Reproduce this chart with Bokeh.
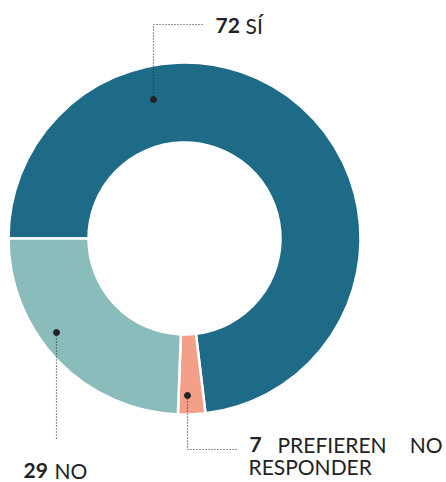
from bokeh.plotting import figure
from bokeh.models import Range1d, ColumnDataSource
from bokeh.core.properties import value
from bokeh.embed import file_html
from bokeh.resources import INLINE
import numpy as np

# ---- data ----
categories = ["SÍ", "PREFIEREN NO RESPONDER", "NO"]
counts = [72, 7, 29]
shares = [73.1, 2.5, 24.4]          # share of the ring (%) as drawn
colors = ["#1d6b87", "#f4a088", "#8abcbc"]

# ---- layout ----
W, H = 446, 482
def X(px): return px
def Y(py): return H - py

p = figure(width=W, height=H, x_range=Range1d(0, W), y_range=Range1d(0, H),
           output_backend="svg", toolbar_location=None, min_border=0,
           x_axis_location=None, y_axis_location=None)
p.grid.visible = False
p.outline_line_color = None
p.background_fill_color = "white"

cx, cy = X(184), Y(238)
start = np.pi  # begins at 9 o'clock, runs clockwise
frac = np.array(shares) / sum(shares)
ends = start - 2 * np.pi * np.cumsum(frac)
starts = np.concatenate([[start], ends[:-1]])
src = ColumnDataSource(dict(start=ends, end=starts, color=colors))
p.annular_wedge(x=cx, y=cy, inner_radius=96, outer_radius=176,
                start_angle="start", end_angle="end", fill_color="color",
                line_color="white", line_width=2.5, source=src)

# leader lines (picture coordinates)
leaders = [
    [(153, 99), (153, 24), (203, 24)],
    [(187, 395), (187, 449), (237, 449)],
    [(56, 332), (56, 439)],
]
for pts in leaders:
    p.line([X(a) for a, b in pts], [Y(b) for a, b in pts], line_color="#333333",
           line_width=1.2, line_dash="1 2")
    p.scatter([X(pts[0][0])], [Y(pts[0][1])], size=6, color="#222222")

font = value("Lato")
def txt(x, y, s, bold=False, align="left"):
    p.text(x=[X(x)], y=[Y(y)], text=[s], text_font=font, text_font_size="21px",
           text_font_style="bold" if bold else "normal", text_color="#222222",
           text_align=align, text_baseline="alphabetic")

txt(215, 25, str(counts[0]), bold=True)
txt(245, 25, categories[0])
txt(23, 470, str(counts[2]), bold=True)
txt(54, 470, categories[2])
txt(249, 444, str(counts[1]), bold=True)
w = categories[1].split()
txt(277, 444, w[0])
txt(442, 444, w[1], align="right")
txt(248, 466, w[2])

open("out.html", "w").write(file_html(p, INLINE))
